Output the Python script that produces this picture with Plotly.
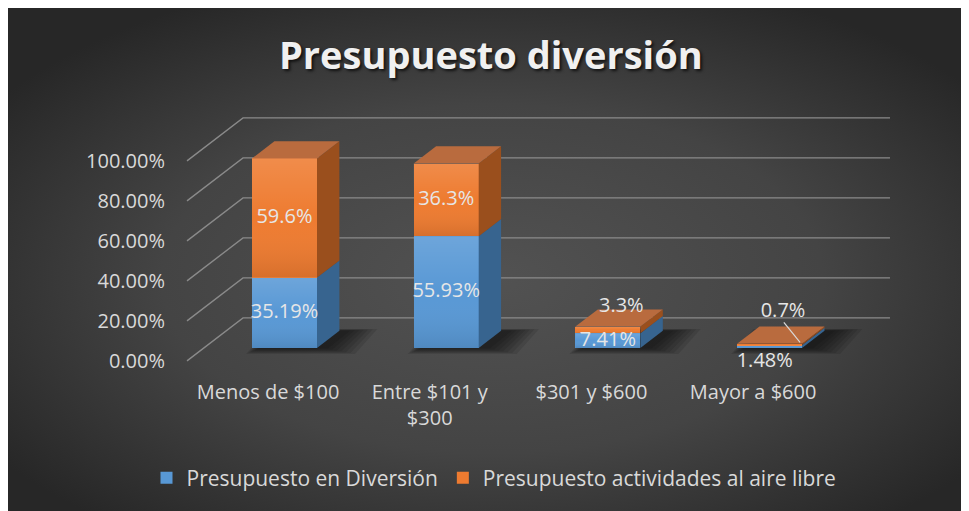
import base64
import plotly.graph_objects as go

# ---------------- data ----------------
categories = ["Menos de $100", "Entre $101 y<br>$300", "$301 y $600", "Mayor a $600"]
diversion = [35.19, 55.93, 7.41, 1.48]
aire_libre = [59.6, 36.3, 3.3, 0.7]
y_ticks = [0, 20, 40, 60, 80, 100]
y_tick_labels = [f"{t:.2f}%" for t in y_ticks]
series_names = ["Presupuesto en Diversión", "Presupuesto actividades al aire libre"]
title_text = "Presupuesto diversión"

# ---------------- layout geometry (figure pixels) ----------------
W, H = 969, 511
PL, PR, PT, PB = 164, 892, 92, 370
X_RANGE = [-0.5937, 3.9085]
Y_RANGE = [-15, 124]
KX = (PR - PL) / (X_RANGE[1] - X_RANGE[0])   # px per category unit
KY = (PB - PT) / (Y_RANGE[1] - Y_RANGE[0])   # px per percent unit

WALL_PX = (56, 43)          # full depth of the 3D floor in pixels (right, up)
DX_WALL = WALL_PX[0] / KX
DV_WALL = WALL_PX[1] / KY
BAR_FRONT_DEPTH = 0.3
BAR_DEPTH = 0.4
DX = BAR_DEPTH * DX_WALL
DV = BAR_DEPTH * DV_WALL
BAR_OFFSET = -0.099
BAR_WIDTH = 0.402
GRID_LEFT = -0.5009
GRID_RIGHT = 3.8466
OFF_FRONT = -BAR_FRONT_DEPTH * DV_WALL      # front plane relative to bar plane
FRONT_RANGE = [Y_RANGE[0] - OFF_FRONT, Y_RANGE[1] - OFF_FRONT]

BLUE = "#5898d5"
BLUE_SIDE = "#37648f"
ORANGE = "#ee7b30"
ORANGE_SIDE = "#9a4f1d"
ORANGE_TOP = "#b96b3e"
TEXT = "#d9d9d9"
FONT = "Open Sans"

fig = go.Figure()

# ---------------- gridlines (3D wall) on base axes (front-plane coords) ----------------
fx = GRID_LEFT
bx = GRID_LEFT + DX_WALL
gx, gy = [], []
for t in y_ticks:
    gx += [fx, bx, GRID_RIGHT, None]
    gy += [t, t + DV_WALL, t + DV_WALL, None]
fig.add_trace(go.Scatter(x=gx, y=gy, mode="lines", line=dict(color="#8a8a8a", width=1.4),
                         hoverinfo="skip", showlegend=False, xaxis="x", yaxis="y"))


def poly(pts, color, opacity=1.0, axes=("x3", "y3"), gradient=None):
    xs = [p[0] for p in pts] + [pts[0][0]]
    ys = [p[1] for p in pts] + [pts[0][1]]
    kw = {}
    if gradient is not None:
        kw["fillgradient"] = gradient
    fig.add_trace(go.Scatter(x=xs, y=ys, mode="lines", fill="toself", fillcolor=color,
                             line=dict(width=0, color="rgba(0,0,0,0)"), opacity=opacity,
                             hoverinfo="skip", showlegend=False, xaxis=axes[0], yaxis=axes[1], **kw))


# ---------------- shadows (overlay below the bars) ----------------
for i in range(len(categories)):
    xl = i + BAR_OFFSET
    xr = xl + BAR_WIDTH
    for grow in [20, 17, 14, 11, 8, 5, 2]:
        gxu = grow / KX
        gvu = grow / KY * 0.3
        shift = 8 / KX
        poly([(xl - gxu * 0.7 + shift, -gvu), (xr + gxu * 1.5 + shift, -gvu),
              (xr + DX + gxu * 1.5 + shift, DV + gvu * 0.3), (xl + DX - gxu * 0.7 + shift, DV + gvu * 0.3)],
             "#000000", 0.1, axes=("x2", "y2"))

# ---------------- bar side / top faces ----------------
for i in range(len(categories)):
    xl = i + BAR_OFFSET
    xr = xl + BAR_WIDTH
    b1 = diversion[i]
    b2 = b1 + aire_libre[i]
    poly([(xr, 0), (xr + DX, DV), (xr + DX, b1 + DV), (xr, b1)], BLUE_SIDE)
    poly([(xr, b1), (xr + DX, b1 + DV), (xr + DX, b2 + DV), (xr, b2)], ORANGE_SIDE)
    poly([(xl, b2), (xl + DX, b2 + DV), (xr + DX, b2 + DV), (xr, b2)], ORANGE_TOP)

# ---------------- front faces (bars) ----------------
xs_idx = list(range(len(categories)))
fig.add_trace(go.Bar(x=xs_idx, y=diversion, name=series_names[0], width=BAR_WIDTH,
                     offset=BAR_OFFSET, marker=dict(color=BLUE, line=dict(width=0)),
                     hoverinfo="skip", xaxis="x3", yaxis="y3"))
fig.add_trace(go.Bar(x=xs_idx, y=aire_libre, name=series_names[1], width=BAR_WIDTH,
                     offset=BAR_OFFSET, marker=dict(color=ORANGE, line=dict(width=0)),
                     hoverinfo="skip", xaxis="x3", yaxis="y3"))

# subtle vertical shading on the front faces (light at top, darker at bottom)
for i in range(len(categories)):
    xl = i + BAR_OFFSET
    xr = xl + BAR_WIDTH
    b1 = diversion[i]
    b2 = b1 + aire_libre[i]
    for lo, hi in [(0, b1), (b1, b2)]:
        if hi - lo < 1:
            continue
        poly([(xl, lo), (xr, lo), (xr, hi), (xl, hi)], "rgba(0,0,0,0)",
             gradient=dict(type="vertical", start=lo, stop=hi,
                           colorscale=[[0, "rgba(0,0,0,0.10)"], [0.5, "rgba(255,255,255,0.0)"],
                                       [1, "rgba(255,255,255,0.13)"]]))

# ---------------- data labels ----------------
label_lift = [0, 0, 1, 7]
lx, ly, lt = [], [], []
leader_x, leader_y = [], []
for i in range(len(categories)):
    c = i + BAR_OFFSET + BAR_WIDTH / 2
    b1 = diversion[i]
    b2 = b1 + aire_libre[i]
    if b1 >= 5:
        lx.append(c); ly.append(b1 / 2)
    else:
        lx.append(c - 0.03); ly.append(-7)
    lt.append(f"{diversion[i]:.2f}%")
    if aire_libre[i] >= 5:
        lx.append(c); ly.append(b1 + aire_libre[i] / 2)
    else:
        ax = c + DX * 0.6
        ay = b2 + DV + label_lift[i]
        lx.append(ax); ly.append(ay)
        if label_lift[i] > 3:
            leader_x += [ax + 0.005, c + DX + 0.05, None]
            leader_y += [ay - 5, b2 + 0.6, None]
    lt.append(f"{aire_libre[i]:.1f}%")

fig.add_trace(go.Scatter(x=leader_x, y=leader_y, mode="lines", line=dict(color=TEXT, width=1.2),
                         hoverinfo="skip", showlegend=False, xaxis="x3", yaxis="y3"))
fig.add_trace(go.Scatter(x=lx, y=ly, text=lt, mode="text",
                         textfont=dict(family=FONT, size=20, color="#e6e6e6"),
                         hoverinfo="skip", showlegend=False, xaxis="x3", yaxis="y3"))

# ---------------- background (radial gradient) ----------------
svg = ("<svg xmlns='http://www.w3.org/2000/svg' width='969' height='511' viewBox='0 0 969 511' "
       "preserveAspectRatio='none'><defs><radialGradient id='g' cx='0.5' cy='0.53' r='0.62'>"
       "<stop offset='0' stop-color='#525252'/><stop offset='0.55' stop-color='#444444'/>"
       "<stop offset='1' stop-color='#272727'/></radialGradient></defs>"
       "<rect x='0' y='0' width='969' height='511' fill='url(#g)'/></svg>")
src = "data:image/svg+xml;base64," + base64.b64encode(svg.encode()).decode()

hidden = dict(showgrid=False, zeroline=False, showline=False, showticklabels=False, ticks="",
              automargin=False, fixedrange=True)

fig.update_layout(
    width=W, height=H,
    margin=dict(l=0, r=0, t=0, b=0),
    paper_bgcolor="#2b2b2b",
    plot_bgcolor="rgba(0,0,0,0)",
    barmode="stack",
    showlegend=True,
    font=dict(family=FONT, color=TEXT, size=20),
    images=[dict(source=src, xref="paper", yref="paper", x=0, y=1, sizex=1, sizey=1,
                 xanchor="left", yanchor="top", sizing="stretch", layer="below")],
    xaxis=dict(domain=[PL / W, PR / W], range=X_RANGE, tickvals=xs_idx, ticktext=categories,
               showgrid=False, zeroline=False, showline=False, ticks="",
               tickfont=dict(family=FONT, size=20, color=TEXT), automargin=False, fixedrange=True),
    yaxis=dict(domain=[1 - PB / H, 1 - PT / H], range=FRONT_RANGE, tickvals=y_ticks,
               ticktext=y_tick_labels, showgrid=False, zeroline=False, showline=False, ticks="",
               ticklabelstandoff=6, tickfont=dict(family=FONT, size=20, color=TEXT),
               automargin=False, fixedrange=True),
    xaxis2=dict(overlaying="x", range=X_RANGE, **hidden),
    yaxis2=dict(overlaying="y", range=Y_RANGE, **hidden),
    xaxis3=dict(overlaying="x", range=X_RANGE, **hidden),
    yaxis3=dict(overlaying="y", range=Y_RANGE, **hidden),
    legend=dict(orientation="h", x=486 / W, xanchor="center", y=1 - 470 / H, yanchor="middle",
                font=dict(family=FONT, size=21, color=TEXT), bgcolor="rgba(0,0,0,0)",
                traceorder="normal"),
    annotations=[dict(text=f"<b>{title_text}</b>", x=483 / W, y=1 - 46 / H, xref="paper", yref="paper",
                      xanchor="center", yanchor="middle", showarrow=False,
                      font=dict(family=FONT, size=38, color="#f0f0f0",
                                shadow="2px 2px 3px rgba(0,0,0,0.7)"))],
)

fig.write_html("out.html")
